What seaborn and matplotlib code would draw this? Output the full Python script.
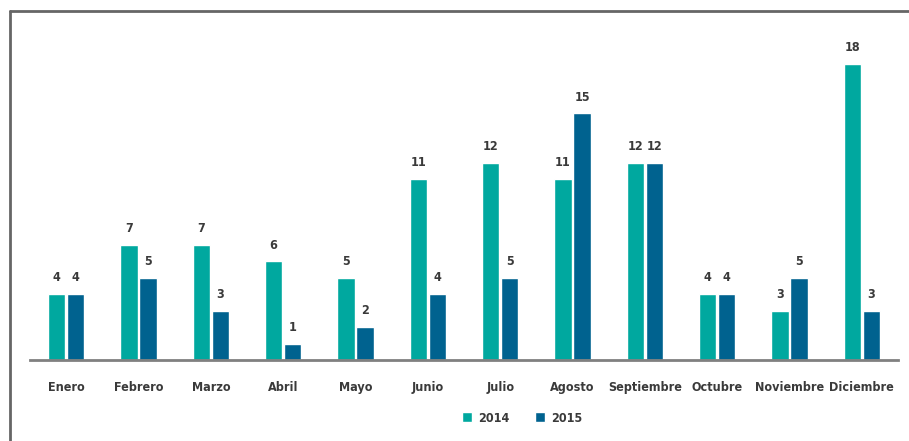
import matplotlib
matplotlib.use("Agg")
import matplotlib.pyplot as plt
import seaborn as sns
import pandas as pd
from matplotlib.lines import Line2D

months = ["Enero", "Febrero", "Marzo", "Abril", "Mayo", "Junio", "Julio",
          "Agosto", "Septiembre", "Octubre", "Noviembre", "Diciembre"]
v2014 = [4, 7, 7, 6, 5, 11, 12, 11, 12, 4, 3, 18]
v2015 = [4, 5, 3, 1, 2, 4, 5, 15, 12, 4, 5, 3]
years = ["2014", "2015"]
colors = ["#00A89F", "#00628F"]

sns.set_theme(style="white")
plt.rcParams["font.family"] = ["DejaVu Sans"]
plt.rcParams["font.stretch"] = "condensed"

df = pd.DataFrame({
    "Mes": months * 2,
    "Valor": v2014 + v2015,
    "Año": [years[0]] * len(months) + [years[1]] * len(months),
})

fs = 9
tcol = "#3a3a3a"

fig = plt.figure(figsize=(9.09, 4.41), dpi=100)
ax = fig.add_axes([30 / 909, (441 - 360) / 441, (898 - 30) / 909, (360 - 31) / 441])

sns.barplot(data=df, x="Mes", y="Valor", hue="Año", palette=colors,
            width=0.53, gap=0.1, ax=ax, legend=True, saturation=1)

for cont in ax.containers:
    ax.bar_label(cont, labels=[f"{int(b.get_height())}" for b in cont],
                 padding=7, fontsize=fs, color=tcol, fontweight="semibold",
                 fontstretch="condensed")

ax.set_ylim(0, 20)
ax.set_xlim(-0.5, 11.5)
ax.set_xlabel("")
ax.set_ylabel("")
ax.set_yticks([])
ax.tick_params(axis="x", length=0, pad=15, labelsize=fs, labelcolor=tcol)
for lbl in ax.get_xticklabels():
    lbl.set_fontweight("semibold")
    lbl.set_fontstretch("condensed")
for s in ["top", "left", "right"]:
    ax.spines[s].set_visible(False)
ax.spines["bottom"].set_color("#808080")
ax.spines["bottom"].set_linewidth(2)

handles, labels = ax.get_legend_handles_labels()
ax.legend_.remove()
leg = fig.legend(handles, labels, loc="center", bbox_to_anchor=(522 / 909, 1 - 418 / 441),
                 ncol=2, frameon=False, handlelength=0.8, handleheight=0.8,
                 columnspacing=2.0, handletextpad=0.5, fontsize=fs)
for t in leg.get_texts():
    t.set_color(tcol)
    t.set_fontweight("semibold")
    t.set_fontstretch("condensed")

top_y = 1 - 11 / 441
left_x = 10 / 909
fig.lines.append(Line2D([left_x, 1.0], [top_y, top_y], transform=fig.transFigure,
                        color="#666666", linewidth=2))
fig.lines.append(Line2D([left_x, left_x], [0.0, top_y], transform=fig.transFigure,
                        color="#666666", linewidth=2))

fig.savefig("out.png", dpi=100)
